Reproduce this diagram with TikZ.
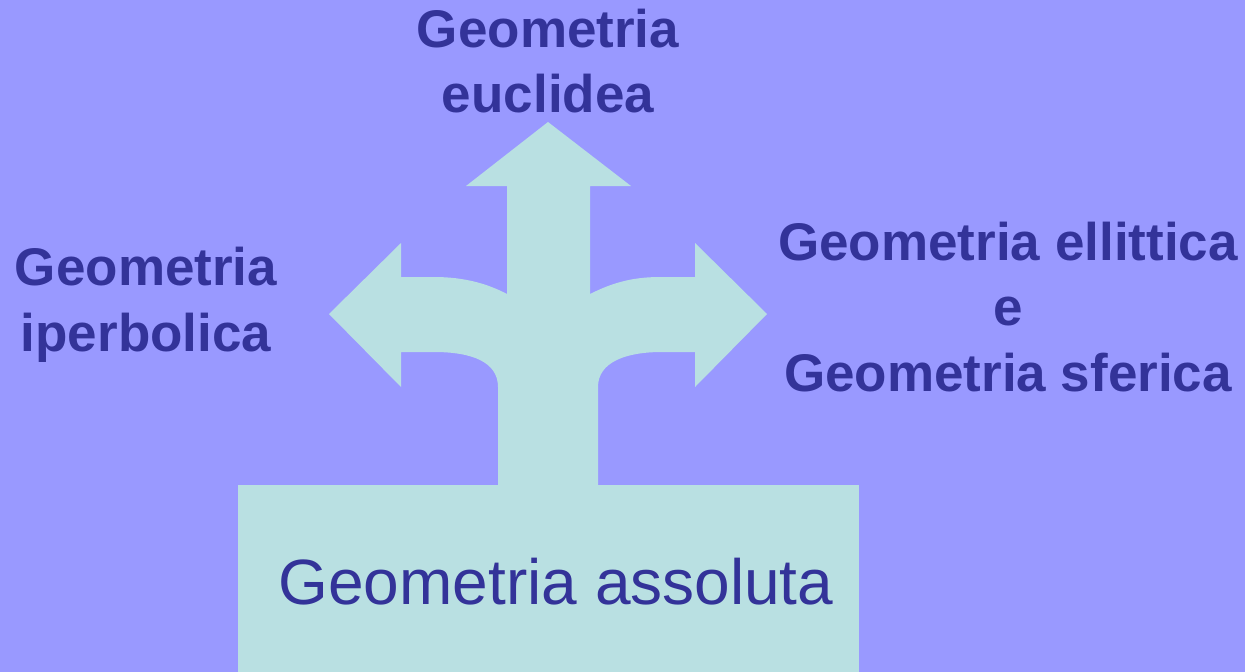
\documentclass[tikz,border=0pt]{standalone}
\usepackage{fontspec}
\setmainfont{Liberation Sans}
\usetikzlibrary{positioning}

\definecolor{bgblue}{RGB}{153,153,255}
\definecolor{pathcyan}{RGB}{185,224,226}
\definecolor{labelblue}{RGB}{51,51,153}

\tikzset{
  branchlabel/.style={text=labelblue, align=center, inner sep=0pt,
    font=\fontsize{53}{65.5}\selectfont\bfseries},
  baselabel/.style={text=labelblue, inner sep=0pt,
    font=\fontsize{64}{77}\selectfont},
}

\begin{document}
\begin{tikzpicture}[x=1pt,y=-1pt]

    % Background
    \fill[bgblue] (0,0) rectangle (1245,672);
    \useasboundingbox (0,0) rectangle (1245,672);

    % Three-way arrow
    \fill[pathcyan] (498,486) -- (498,387)
        .. controls (498,362) and (472,352) .. (434,352)
        -- (401,352) -- (401,387) -- (329,314) -- (401,243) -- (401,277)
        -- (434,277) .. controls (465,277) and (488,284) .. (507,294)
        -- (507,186) -- (466,186) -- (548,122) -- (631,186) -- (590,186)
        -- (590,294) .. controls (610,284) and (630,277) .. (660,277)
        -- (695,277) -- (695,243) -- (767,314) -- (695,387) -- (695,352)
        -- (662,352) .. controls (626,352) and (598,362) .. (598,387)
        -- (598,486) -- cycle;

    % Base box
    \fill[pathcyan] (238,485) rectangle (859,672);
    \node[baselabel, anchor=base] (assoluta) at (556,604) {Geometria assoluta};

    % Branch labels
    \node[branchlabel] (euclidea) at (548,61) {Geometria\\euclidea};
    \node[branchlabel] (iperbolica) at (146,305) {Geometria\\iperbolica};
    \node[branchlabel] (ellittica) at (1008,307) {Geometria ellittica\\e\\Geometria sferica};
\end{tikzpicture}
\end{document}
